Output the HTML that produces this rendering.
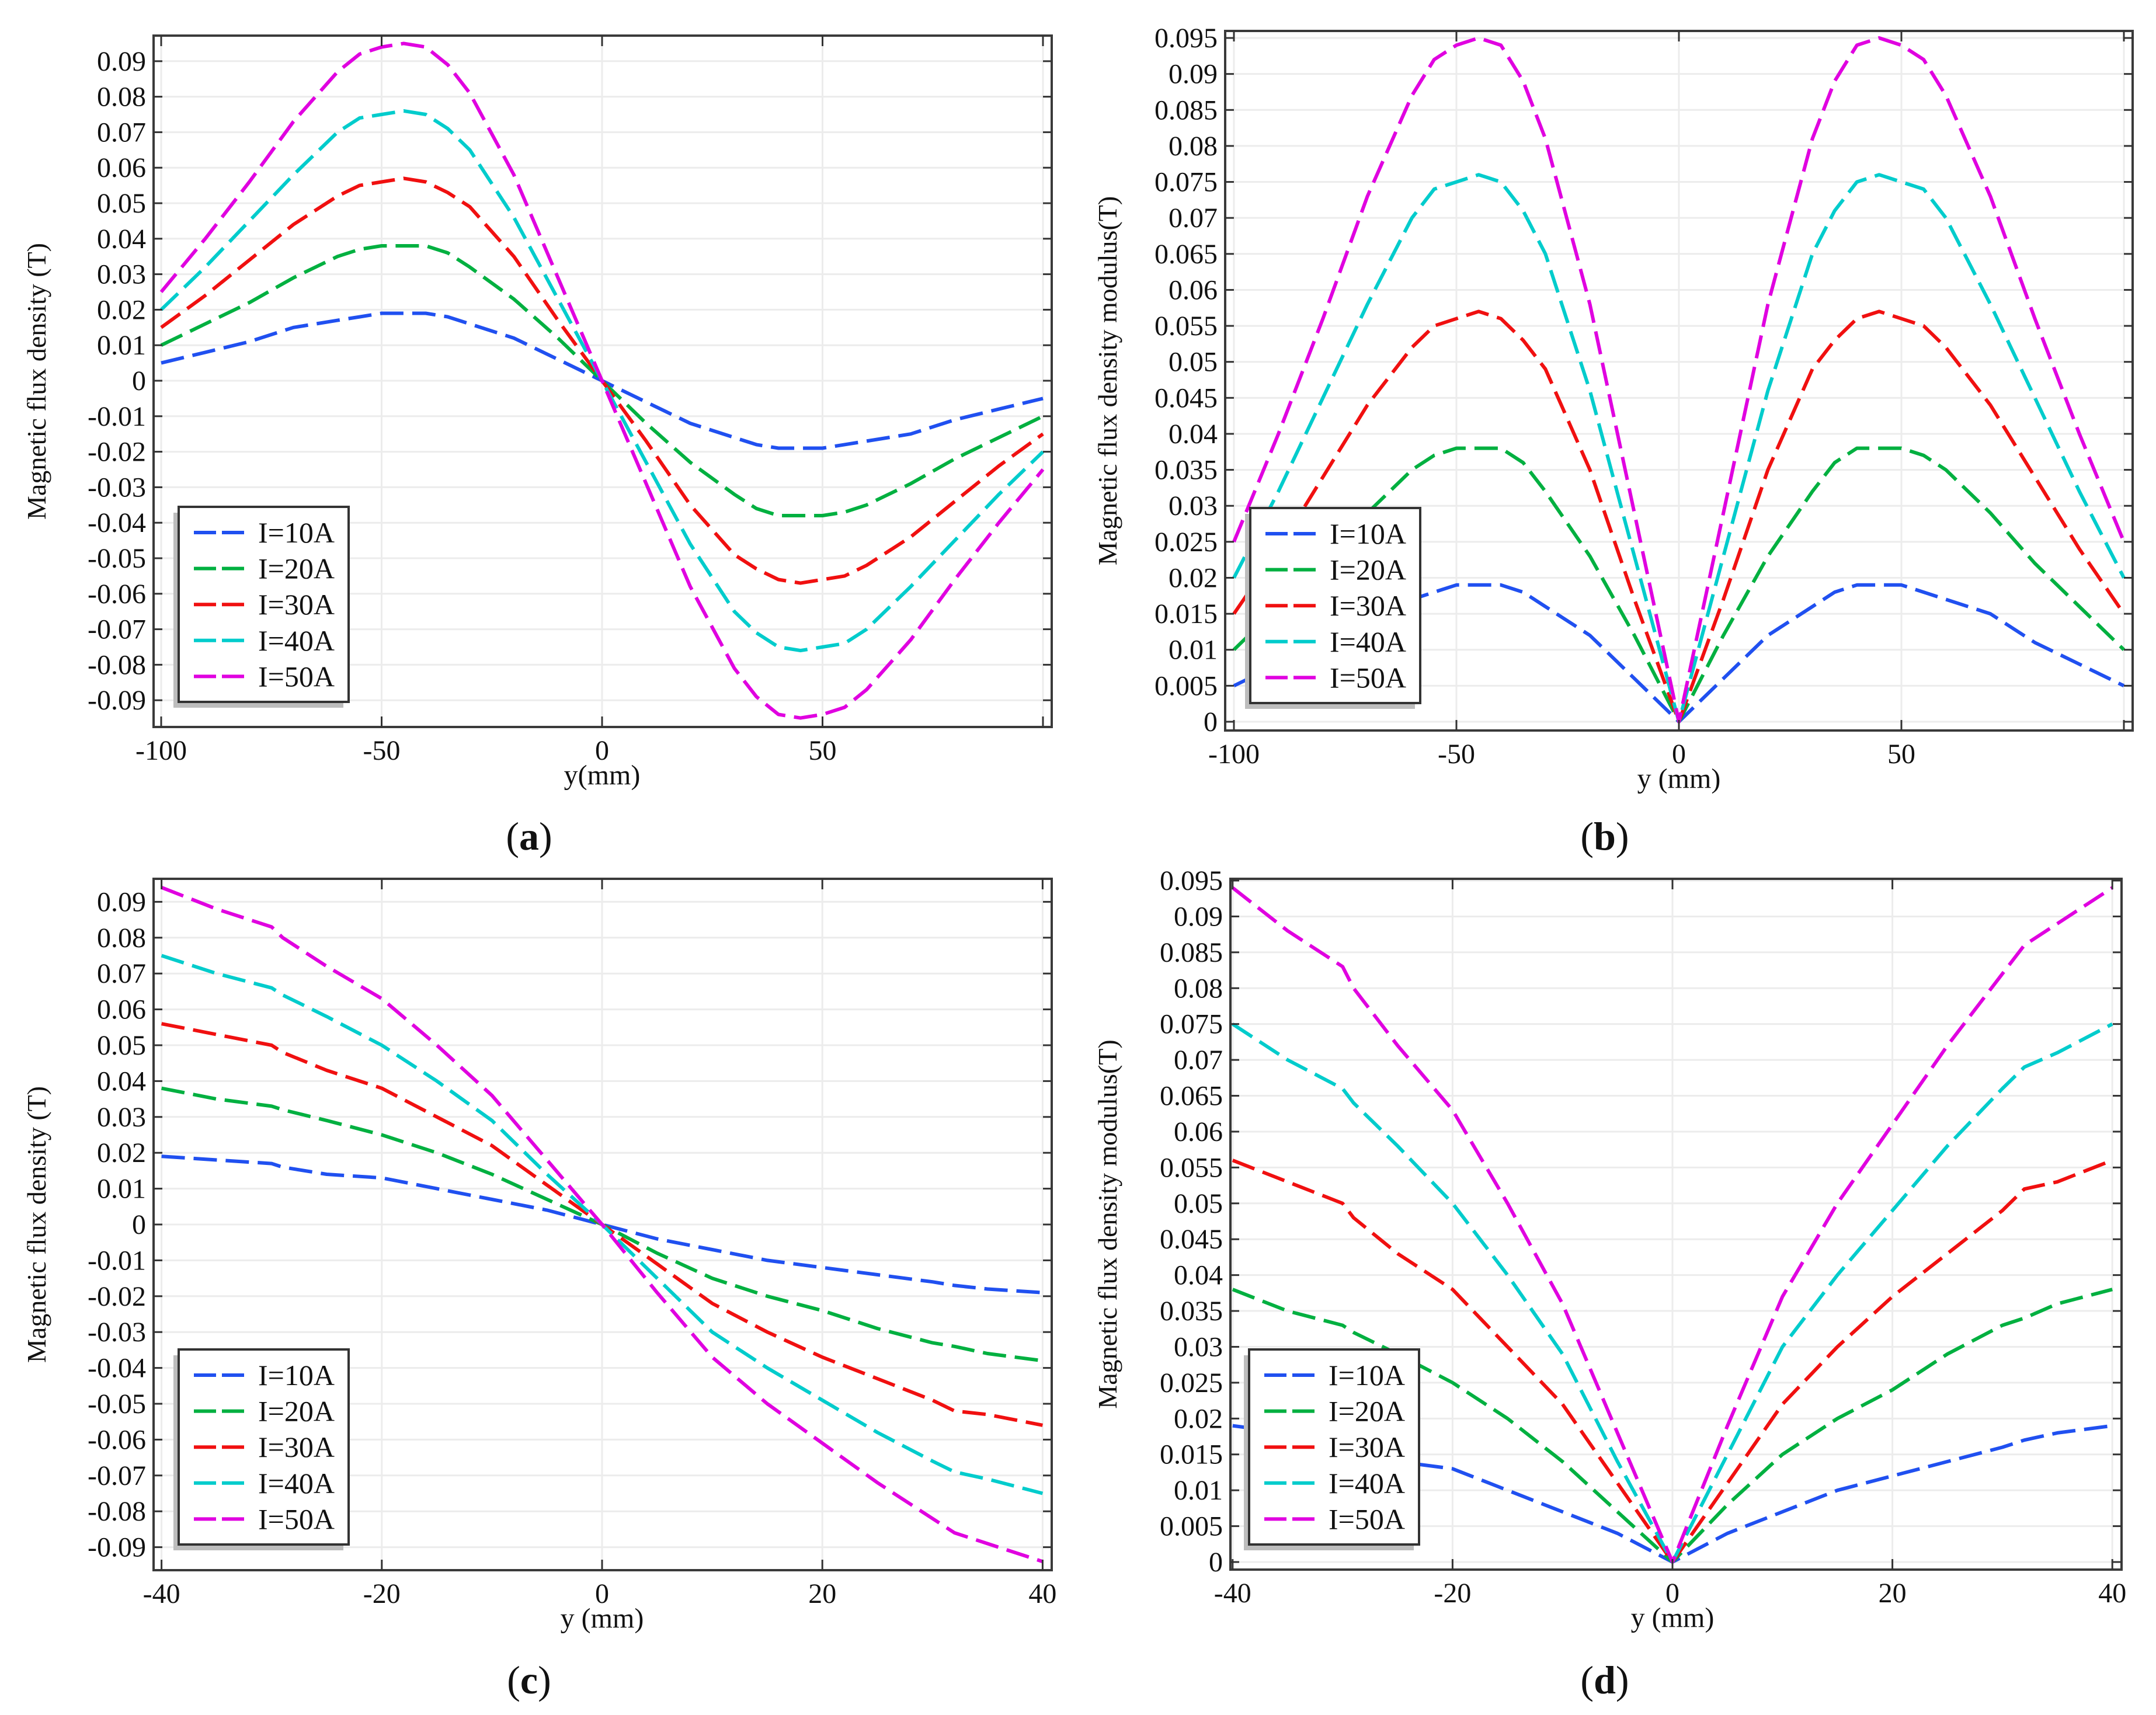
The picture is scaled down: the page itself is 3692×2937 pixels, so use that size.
<!DOCTYPE html>
<html><head><meta charset="utf-8"><style>
html,body{margin:0;padding:0;background:#fff}
svg{display:block}
text{font-family:"Liberation Serif","DejaVu Serif",serif;fill:#111}
</style></head><body>
<svg id="fig" width="3692" height="2937" viewBox="0 0 3692 2937" xmlns="http://www.w3.org/2000/svg" font-family="Liberation Serif, DejaVu Serif, serif"></svg>
<script>
// ---------- data ----------
const seriesNames = ["I=10A","I=20A","I=30A","I=40A","I=50A"];
const seriesColors = ["#2050f0","#00b040","#f01010","#00cccc","#e000e0"];

const xAB = [-100,-90,-80,-70,-60,-55,-50,-45,-40,-35,-30,-20,-10,0,10,20,30,35,40,45,50,55,60,70,80,90,100];
const a10 = [0.005,0.008,0.011,0.015,0.017,0.018,0.019,0.019,0.019,0.018,0.016,0.012,0.006,0,-0.006,-0.012,-0.016,-0.018,-0.019,-0.019,-0.019,-0.018,-0.017,-0.015,-0.011,-0.008,-0.005];
const a20 = [0.010,0.016,0.022,0.029,0.035,0.037,0.038,0.038,0.038,0.036,0.032,0.023,0.012,0,-0.012,-0.023,-0.032,-0.036,-0.038,-0.038,-0.038,-0.037,-0.035,-0.029,-0.022,-0.016,-0.010];
const a30 = [0.015,0.024,0.034,0.044,0.052,0.055,0.056,0.057,0.056,0.053,0.049,0.035,0.017,0,-0.017,-0.035,-0.049,-0.053,-0.056,-0.057,-0.056,-0.055,-0.052,-0.044,-0.034,-0.024,-0.015];
const a40 = [0.020,0.032,0.045,0.058,0.070,0.074,0.075,0.076,0.075,0.071,0.065,0.046,0.023,0,-0.023,-0.046,-0.065,-0.071,-0.075,-0.076,-0.075,-0.074,-0.070,-0.058,-0.045,-0.032,-0.020];
const a50 = [0.025,0.040,0.056,0.073,0.087,0.092,0.094,0.095,0.094,0.089,0.081,0.058,0.029,0,-0.029,-0.058,-0.081,-0.089,-0.094,-0.095,-0.094,-0.092,-0.087,-0.073,-0.056,-0.040,-0.025];
const b10 = [0.005,0.008,0.011,0.015,0.017,0.018,0.019,0.019,0.019,0.018,0.016,0.012,0.006,0,0.006,0.012,0.016,0.018,0.019,0.019,0.019,0.018,0.017,0.015,0.011,0.008,0.005];
const b20 = [0.010,0.016,0.022,0.029,0.035,0.037,0.038,0.038,0.038,0.036,0.032,0.023,0.012,0,0.012,0.023,0.032,0.036,0.038,0.038,0.038,0.037,0.035,0.029,0.022,0.016,0.010];
const b30 = [0.015,0.024,0.034,0.044,0.052,0.055,0.056,0.057,0.056,0.053,0.049,0.035,0.017,0,0.017,0.035,0.049,0.053,0.056,0.057,0.056,0.055,0.052,0.044,0.034,0.024,0.015];
const b40 = [0.020,0.032,0.045,0.058,0.070,0.074,0.075,0.076,0.075,0.071,0.065,0.046,0.023,0,0.023,0.046,0.065,0.071,0.075,0.076,0.075,0.074,0.070,0.058,0.045,0.032,0.020];
const b50 = [0.025,0.040,0.056,0.073,0.087,0.092,0.094,0.095,0.094,0.089,0.081,0.058,0.029,0,0.029,0.058,0.081,0.089,0.094,0.095,0.094,0.092,0.087,0.073,0.056,0.040,0.025];

const xCD = [-40,-35,-30,-29,-25,-20,-15,-10,-5,0,5,10,15,20,25,30,32,35,40];
const c10 = [0.019,0.018,0.017,0.016,0.014,0.013,0.010,0.007,0.004,0,-0.004,-0.007,-0.010,-0.012,-0.014,-0.016,-0.017,-0.018,-0.019];
const c20 = [0.038,0.035,0.033,0.032,0.029,0.025,0.020,0.014,0.007,0,-0.008,-0.015,-0.020,-0.024,-0.029,-0.033,-0.034,-0.036,-0.038];
const c30 = [0.056,0.053,0.050,0.048,0.043,0.038,0.030,0.022,0.011,0,-0.011,-0.022,-0.030,-0.037,-0.043,-0.049,-0.052,-0.053,-0.056];
const c40 = [0.075,0.070,0.066,0.064,0.058,0.050,0.040,0.029,0.014,0,-0.015,-0.030,-0.040,-0.049,-0.058,-0.066,-0.069,-0.071,-0.075];
const c50 = [0.094,0.088,0.083,0.080,0.072,0.063,0.050,0.036,0.018,0,-0.019,-0.037,-0.050,-0.061,-0.072,-0.082,-0.086,-0.089,-0.094];
const d10 = [0.019,0.018,0.017,0.016,0.014,0.013,0.010,0.007,0.004,0,0.004,0.007,0.010,0.012,0.014,0.016,0.017,0.018,0.019];
const d20 = [0.038,0.035,0.033,0.032,0.029,0.025,0.020,0.014,0.007,0,0.008,0.015,0.020,0.024,0.029,0.033,0.034,0.036,0.038];
const d30 = [0.056,0.053,0.050,0.048,0.043,0.038,0.030,0.022,0.011,0,0.011,0.022,0.030,0.037,0.043,0.049,0.052,0.053,0.056];
const d40 = [0.075,0.070,0.066,0.064,0.058,0.050,0.040,0.029,0.014,0,0.015,0.030,0.040,0.049,0.058,0.066,0.069,0.071,0.075];
const d50 = [0.094,0.088,0.083,0.080,0.072,0.063,0.050,0.036,0.018,0,0.019,0.037,0.050,0.061,0.072,0.082,0.086,0.089,0.094];

const xTicksAB = [-100,-50,0,50,100];
const xTickLabelsAB = ["-100","-50","0","50",""];
const xTicksCD = [-40,-20,0,20,40];
const xTickLabelsCD = ["-40","-20","0","20","40"];
const yTicksAC = [-0.09,-0.08,-0.07,-0.06,-0.05,-0.04,-0.03,-0.02,-0.01,0,0.01,0.02,0.03,0.04,0.05,0.06,0.07,0.08,0.09];
const yTickLabelsAC = ["-0.09","-0.08","-0.07","-0.06","-0.05","-0.04","-0.03","-0.02","-0.01","0","0.01","0.02","0.03","0.04","0.05","0.06","0.07","0.08","0.09"];
const yTicksBD = [0,0.005,0.01,0.015,0.02,0.025,0.03,0.035,0.04,0.045,0.05,0.055,0.06,0.065,0.07,0.075,0.08,0.085,0.09,0.095];
const yTickLabelsBD = ["0","0.005","0.01","0.015","0.02","0.025","0.03","0.035","0.04","0.045","0.05","0.055","0.06","0.065","0.07","0.075","0.08","0.085","0.09","0.095"];

// ---------- drawing ----------
const NS = "http://www.w3.org/2000/svg";
const svg = document.getElementById("fig");
const FF = "Liberation Serif, DejaVu Serif, serif";
function mk(tag, attrs, parent){
  const e = document.createElementNS(NS, tag);
  for (const k in attrs) e.setAttribute(k, attrs[k]);
  if (tag === "text") e.setAttribute("font-family", FF);
  (parent||svg).appendChild(e);
  return e;
}

function panel(p){
  const g = mk("g", {});
  
  
  const sx = v => p.x0 + v * p.kx;
  const sy = v => p.y0 - v * p.ky;
  mk("rect",{x:p.L,y:p.T,width:p.R-p.L,height:p.B-p.T,fill:"#fff"},g);
  p.yt.forEach(v=>{ mk("line",{x1:p.L,x2:p.R,y1:sy(v),y2:sy(v),stroke:"#ececec","stroke-width":3},g); });
  p.xt.forEach(v=>{ mk("line",{x1:sx(v),x2:sx(v),y1:p.T,y2:p.B,stroke:"#ececec","stroke-width":3},g); });
  p.series.forEach((ys,i)=>{
    const d = ys.map((y,j)=>(j?"L":"M")+sx(p.xs[j]).toFixed(1)+","+sy(y).toFixed(1)).join(" ");
    const path = mk("path",{d:d,fill:"none",stroke:seriesColors[i],"stroke-width":6,"stroke-dasharray":"40 15","stroke-linejoin":"round"},g);
    
    
  });
  const fr = mk("rect",{x:p.L,y:p.T,width:p.R-p.L,height:p.B-p.T,fill:"none",stroke:"#3a3a3a","stroke-width":4},g);
  
  
  p.yt.forEach((v,i)=>{
    const y = sy(v);
    mk("line",{x1:p.L,x2:p.L+15,y1:y,y2:y,stroke:"#333","stroke-width":3},g);
    mk("line",{x1:p.R,x2:p.R-15,y1:y,y2:y,stroke:"#333","stroke-width":3},g);
    const t = mk("text",{x:p.L-13,y:y+16,"text-anchor":"end","font-size":48},g);
    t.textContent = p.ytl[i];
    
    
  });
  p.xt.forEach((v,i)=>{
    const x = sx(v);
    mk("line",{x1:x,x2:x,y1:p.B,y2:p.B-18,stroke:"#333","stroke-width":3},g);
    mk("line",{x1:x,x2:x,y1:p.T,y2:p.T+18,stroke:"#333","stroke-width":3},g);
    const t = mk("text",{x:x,y:p.B+56,"text-anchor":"middle","font-size":48},g);
    t.textContent = p.xtl[i];
    
    
  });
  const xt = mk("text",{x:sx(0),y:p.B+98,"text-anchor":"middle","font-size":48},g);
  xt.textContent = p.xtitle;
  
  
  const ty = (p.T+p.B)/2;
  const yt = mk("text",{x:p.ytx,y:ty,"text-anchor":"middle","font-size":46,transform:"rotate(-90 "+p.ytx+" "+ty+")"},g);
  yt.textContent = p.ytitle;
  
  
  const lg = mk("g",{},g);
  
  
  mk("rect",{x:p.lx-9,y:p.ly+10,width:291,height:334,fill:"#bdbdbd"},lg);
  mk("rect",{x:p.lx,y:p.ly,width:291,height:334,fill:"#fff",stroke:"#333","stroke-width":4},lg);
  seriesNames.forEach((n,i)=>{
    const yy = p.ly + 44 + i*61.6;
    const e = mk("g",{},lg);
    
    
    mk("line",{x1:p.lx+26,x2:p.lx+113,y1:yy,y2:yy,stroke:seriesColors[i],"stroke-width":6,"stroke-dasharray":"38 10"},e);
    const t = mk("text",{x:p.lx+136,y:yy+17,"font-size":50},e);
    t.textContent = n;
  });
  const pl = mk("text",{x:p.plx,y:p.ply,"text-anchor":"middle","font-size":68},g);
  pl.innerHTML = '(<tspan font-weight="bold">'+p.id+'</tspan>)';
  
  
}

panel({id:"a",L:263,R:1801,T:61,B:1245,x0:1031,kx:7.55,y0:652,ky:6080,
  xs:xAB,series:[a10,a20,a30,a40,a50],xt:xTicksAB,xtl:xTickLabelsAB,yt:yTicksAC,ytl:yTickLabelsAC,
  xtitle:"y(mm)",ytitle:"Magnetic flux density (T)",ytx:78,lx:306,ly:868,plx:906,ply:1455});
panel({id:"b",L:2098,R:3652,T:53,B:1251,x0:2875,kx:7.62,y0:1236,ky:12326,
  xs:xAB,series:[b10,b20,b30,b40,b50],xt:xTicksAB,xtl:xTickLabelsAB,yt:yTicksBD,ytl:yTickLabelsBD,
  xtitle:"y  (mm)",ytitle:"Magnetic flux density modulus(T)",ytx:1912,lx:2141,ly:870,plx:2748,ply:1455});
panel({id:"c",L:263,R:1801,T:1505,B:2689,x0:1031,kx:18.86,y0:2097,ky:6140,
  xs:xCD,series:[c10,c20,c30,c40,c50],xt:xTicksCD,xtl:xTickLabelsCD,yt:yTicksAC,ytl:yTickLabelsAC,
  xtitle:"y  (mm)",ytitle:"Magnetic flux density (T)",ytx:78,lx:306,ly:2311,plx:906,ply:2900});
panel({id:"d",L:2107,R:3633,T:1505,B:2688,x0:2864,kx:18.83,y0:2675,ky:12284,
  xs:xCD,series:[d10,d20,d30,d40,d50],xt:xTicksCD,xtl:xTickLabelsCD,yt:yTicksBD,ytl:yTickLabelsBD,
  xtitle:"y  (mm)",ytitle:"Magnetic flux density modulus(T)",ytx:1912,lx:2139,ly:2311,plx:2748,ply:2900});
</script>
</body></html>
